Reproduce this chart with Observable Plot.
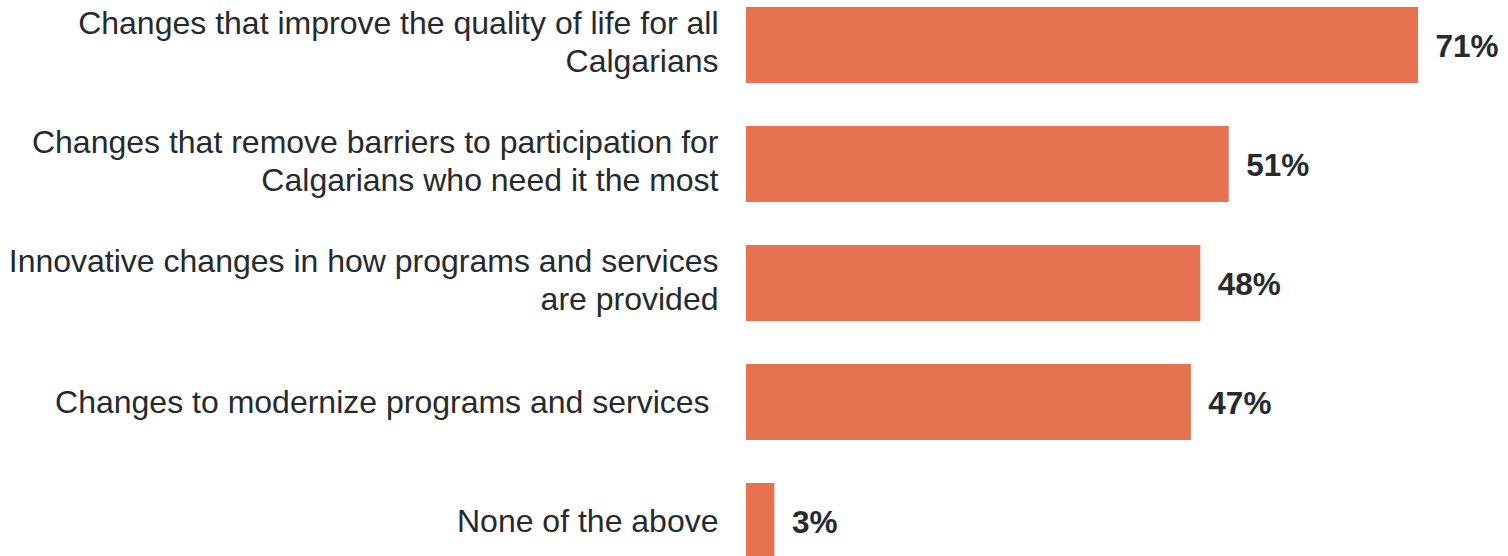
<!DOCTYPE html>
<html>
<head>
<meta charset="utf-8">
<script src="https://cdn.jsdelivr.net/npm/d3@7"></script>
<script src="https://cdn.jsdelivr.net/npm/@observablehq/plot@0.6"></script>
<style>
  html, body { margin: 0; padding: 0; background: #fff; }
  svg { overflow: visible; }
</style>
</head>
<body>
<div id="chart"></div>
<script>
const categories = [
  "Changes that improve the quality of life for all\nCalgarians",
  "Changes that remove barriers to participation for\nCalgarians who need it the most",
  "Innovative changes in how programs and services\nare provided",
  "Changes to modernize programs and services\u00a0",
  "None of the above"
];
const values = [71, 51, 48, 47, 3];
const valueLabels = ["71%", "51%", "48%", "47%", "3%"];

const data = categories.map((c, i) => ({category: c, value: values[i], label: valueLabels[i]}));
const twoLine = data.filter(d => d.category.includes("\n"));
const oneLine = data.filter(d => !d.category.includes("\n"));

const barColor = "#E67252";
const font = "Liberation Sans, Arial, Helvetica, sans-serif";
const labelStyle = {
  y: "category", frameAnchor: "left", text: "category",
  textAnchor: "end", dx: -28,
  fontSize: 32, lineHeight: 1.21, fill: "#262a2e"
};

const chart = Plot.plot({
  width: 1508,
  height: 556,
  marginLeft: 746,
  marginRight: 0,
  marginTop: 6,
  marginBottom: 0,
  style: {fontFamily: font, background: "#fff"},
  x: {domain: [0, 80], range: [746, 746 + 9.465 * 80], axis: null},
  y: {domain: categories, range: [6, 559], paddingInner: 0.363, paddingOuter: 0, axis: null},
  marks: [
    Plot.barX(data, {x: "value", y: "category", fill: barColor}),
    Plot.text(data, {
      x: "value", y: "category", text: "label",
      textAnchor: "start", dx: 17, dy: 1,
      fontSize: 31.5, fontWeight: "bold", fill: "#262a2e"
    }),
    Plot.text(twoLine, {...labelStyle, dy: -5}),
    Plot.text(oneLine, {...labelStyle, dy: -1.5})
  ]
});
document.getElementById("chart").appendChild(chart);
</script>
</body>
</html>
